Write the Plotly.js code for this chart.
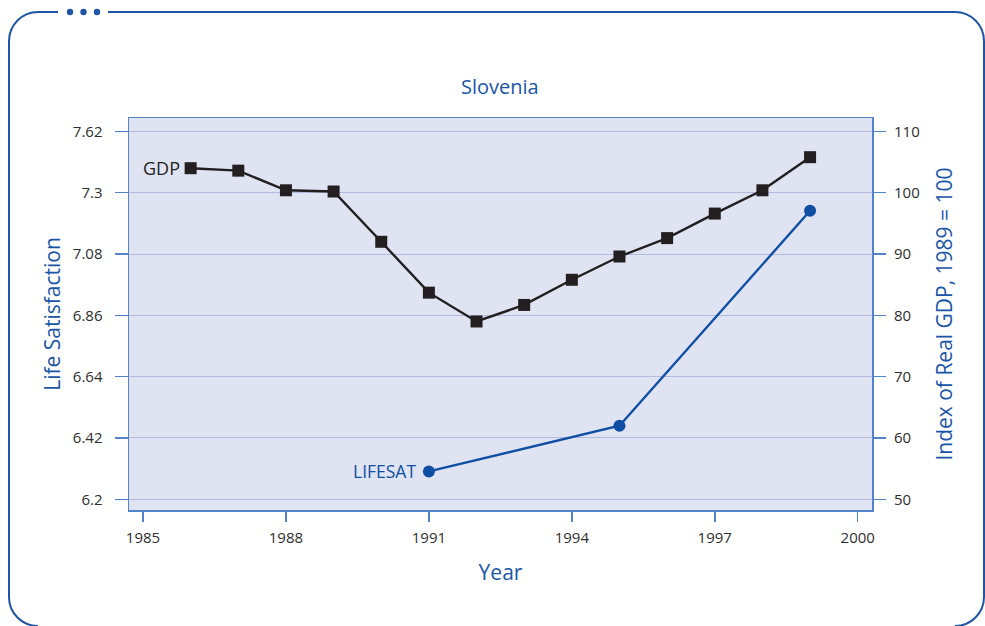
<!DOCTYPE html>
<html>
<head>
<meta charset="utf-8">
<script src="https://cdn.plot.ly/plotly-3.0.1.min.js"></script>
<style>
  html, body { margin:0; padding:0; background:#ffffff; }
  #wrap { position:relative; width:985px; height:626px; overflow:hidden; }
  #frame { position:absolute; left:0; top:0; z-index:0; }
  #chart { position:absolute; left:0; top:0; width:985px; height:626px; z-index:1; }
</style>
</head>
<body>
<div id="wrap">
  <svg id="frame" width="985" height="626" xmlns="http://www.w3.org/2000/svg">
    <path d="M 58 12 L 38 12 A 29 29 0 0 0 9 41 L 9 597 A 29 29 0 0 0 38 626" fill="none" stroke="#1f55a5" stroke-width="2"/>
    <path d="M 108 12 L 955 12 A 29 29 0 0 1 984 41 L 984 597 A 29 29 0 0 1 955 626" fill="none" stroke="#1f55a5" stroke-width="2"/>
    <circle cx="70" cy="12" r="3.2" fill="#1f55a5"/>
    <circle cx="83.5" cy="12" r="3.2" fill="#1f55a5"/>
    <circle cx="97" cy="12" r="3.2" fill="#1f55a5"/>
  </svg>
  <div id="chart"></div>
</div>
<script>
// Data
const gdpYears = [1986, 1987, 1988, 1989, 1990, 1991, 1992, 1993, 1994, 1995, 1996, 1997, 1998, 1999];
const gdpIndex = [104.0, 103.6, 100.4, 100.2, 92.0, 83.7, 79.0, 81.7, 85.8, 89.6, 92.6, 96.6, 100.4, 105.8];

const lifesatYears = [1991, 1995, 1999];
const lifesatValues = [6.30, 6.464, 7.235];

const xTicks = [1985, 1988, 1991, 1994, 1997, 2000];
const leftTickVals = [6.2, 6.42, 6.64, 6.86, 7.08, 7.30, 7.52];
const leftTickText = ["6.2", "6.42", "6.64", "6.86", "7.08", "7.3", "7.62"];
const rightTickVals = [50, 60, 70, 80, 90, 100, 110];

const blue = '#1a55a8';
const axisBlue = '#5583c9';
const gridColor = '#b2badf';
const tickFont = {family: 'Open Sans, sans-serif', size: 15, color: '#2e2e2e'};
const titleFont = {family: 'Open Sans, sans-serif', size: 20, color: blue};
const sideTitleFont = {family: 'Open Sans, sans-serif', size: 21, color: blue};

const traces = [
  {
    x: gdpYears, y: gdpIndex, yaxis: 'y2', type: 'scatter', mode: 'lines+markers',
    line: {color: '#231f20', width: 2.4},
    marker: {symbol: 'square', size: 12, color: '#231f20'},
    name: 'GDP', hoverinfo: 'x+y'
  },
  {
    x: lifesatYears, y: lifesatValues, yaxis: 'y', type: 'scatter', mode: 'lines+markers',
    line: {color: '#0f4fa3', width: 2.4},
    marker: {symbol: 'circle', size: 12, color: '#0f4fa3'},
    name: 'LIFESAT', hoverinfo: 'x+y'
  }
];

const layout = {
  width: 985, height: 626,
  margin: {l: 129, r: 113, t: 118, b: 116, pad: 0},
  paper_bgcolor: 'rgba(0,0,0,0)',
  plot_bgcolor: '#dfe3f2',
  showlegend: false,
  title: {text: 'Slovenia', font: titleFont, x: 0.5075, xanchor: 'center', y: 0.861, yanchor: 'middle'},
  xaxis: {
    range: [1984.706, 2000.30],
    tickvals: xTicks, ticktext: xTicks.map(String),
    ticks: 'outside', ticklen: 10, tickwidth: 1.5, tickcolor: axisBlue,
    showline: true, linecolor: axisBlue, linewidth: 1.5, mirror: true,
    showgrid: false, zeroline: false,
    tickfont: tickFont, ticklabelstandoff: 3,
    title: {text: 'Year', font: sideTitleFont, standoff: 20}
  },
  yaxis: {
    range: [6.1616, 7.568],
    tickvals: leftTickVals, ticktext: leftTickText,
    ticks: 'outside', ticklen: 13, tickwidth: 1.5, tickcolor: axisBlue,
    showline: true, linecolor: axisBlue, linewidth: 1.5, mirror: true,
    showgrid: true, gridcolor: gridColor, gridwidth: 1, zeroline: false,
    tickfont: tickFont, ticklabelstandoff: 9,
    title: {text: 'Life Satisfaction', font: sideTitleFont, standoff: 6}
  },
  yaxis2: {
    range: [48.25, 112.19], overlaying: 'y', side: 'right',
    tickvals: rightTickVals, ticktext: rightTickVals.map(String),
    ticks: 'outside', ticklen: 13, tickwidth: 1.5, tickcolor: axisBlue,
    showline: false, showgrid: false, zeroline: false,
    tickfont: tickFont, ticklabelstandoff: 5,
    title: {text: 'Index of Real GDP, 1989 = 100', font: sideTitleFont, standoff: 18}
  },
  annotations: [
    {x: gdpYears[0], y: gdpIndex[0], xref: 'x', yref: 'y2', text: 'GDP', showarrow: false,
     xanchor: 'right', yanchor: 'middle', xshift: -9,
     font: {family: 'Open Sans, sans-serif', size: 18, color: '#231f20'}},
    {x: lifesatYears[0], y: lifesatValues[0], xref: 'x', yref: 'y', text: 'LIFESAT', showarrow: false,
     xanchor: 'right', yanchor: 'middle', xshift: -11,
     font: {family: 'Open Sans, sans-serif', size: 17.5, color: '#0f4fa3'}}
  ]
};

Plotly.newPlot('chart', traces, layout, {displayModeBar: false, staticPlot: true});
</script>
</body>
</html>
